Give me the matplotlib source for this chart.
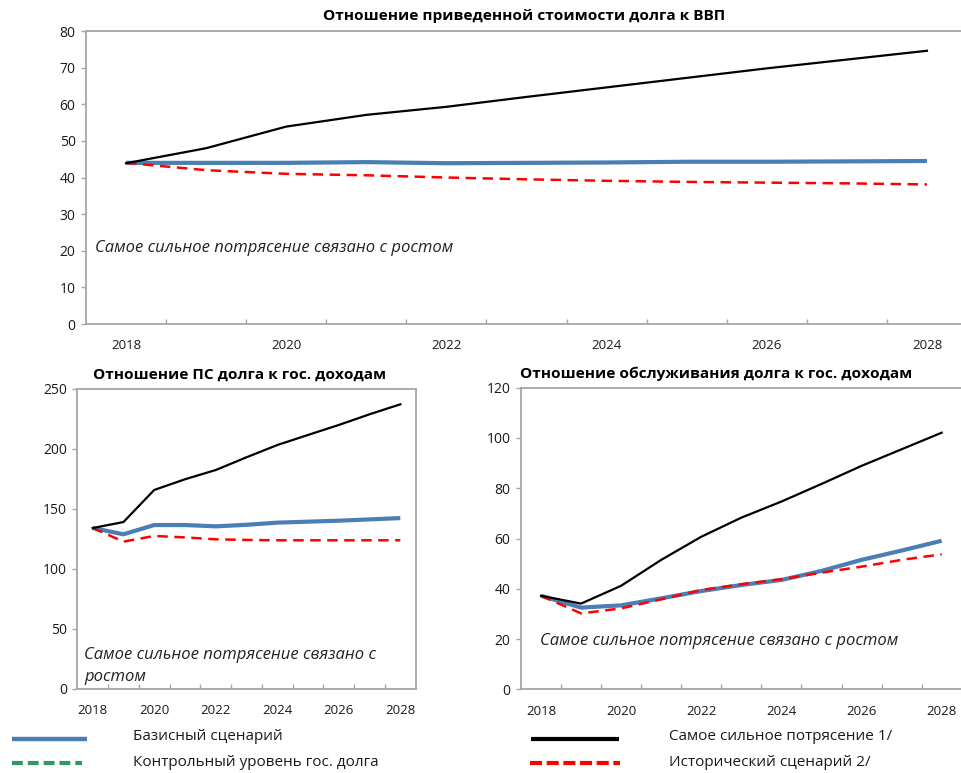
import matplotlib
matplotlib.use("Agg")
import matplotlib.pyplot as plt
from matplotlib.lines import Line2D
from matplotlib.ticker import FixedLocator

plt.rcParams['font.family'] = ['Open Sans', 'DejaVu Sans']

years = list(range(2018, 2029))

# PV of debt to GDP
pv_gdp_base = [44.0, 44.0, 44.0, 44.2, 43.9, 44.0, 44.1, 44.3, 44.3, 44.4, 44.5]
pv_gdp_shock = [43.9, 48.0, 53.9, 57.1, 59.3, 62.0, 64.6, 67.2, 69.8, 72.2, 74.6]
pv_gdp_hist = [44.0, 42.0, 41.0, 40.6, 40.0, 39.5, 39.1, 38.8, 38.6, 38.4, 38.1]

# PV of debt to revenue
pv_rev_base = [134.0, 128.8, 136.5, 136.5, 135.4, 136.7, 138.5, 139.3, 140.1, 141.2, 142.3]
pv_rev_shock = [134.0, 139.0, 165.7, 174.6, 182.3, 192.9, 203.1, 211.5, 219.8, 228.7, 237.0]
pv_rev_hist = [134.0, 122.7, 127.4, 126.2, 124.6, 124.1, 123.8, 123.8, 123.8, 123.8, 123.8]

# Debt service to revenue
ds_rev_base = [37.2, 32.5, 33.4, 36.2, 39.1, 41.5, 43.5, 47.1, 51.5, 55.2, 59.1]
ds_rev_shock = [37.2, 34.1, 41.2, 51.5, 60.7, 68.3, 74.7, 81.7, 88.9, 95.5, 102.1]
ds_rev_hist = [37.2, 30.2, 32.2, 35.8, 39.5, 41.8, 43.8, 46.4, 48.8, 51.5, 53.7]

x_labels = [2018, 2020, 2022, 2024, 2026, 2028]

titles = ["Отношение приведенной стоимости долга к ВВП",
          "Отношение ПС долга к гос. доходам",
          "Отношение обслуживания долга к гос. доходам"]
note = "Самое сильное потрясение связано с ростом"
legend_labels = ["Базисный сценарий", "Контрольный уровень гос. долга",
                 "Самое сильное потрясение 1/", "Исторический сценарий 2/"]

BLUE = "#4a7fb5"
RED = "#ff0000"
BLACK = "#000000"
GREEN = "#2e9a62"
SPINE = "#a6a6a6"
TXT = "#1a1a1a"

W, H = 961, 773
fig = plt.figure(figsize=(W / 100, H / 100), dpi=100)


def px_axes(left, top, right, bottom):
    return fig.add_axes([left / W, 1 - bottom / H, (right - left) / W, (bottom - top) / H])


def style(ax, ymax, ystep):
    ax.set_xlim(2017.5, 2028.5)
    ax.set_ylim(0, ymax)
    ax.set_yticks(range(0, ymax + 1, ystep))
    ax.xaxis.set_major_locator(FixedLocator(x_labels))
    ax.xaxis.set_minor_locator(FixedLocator([y + 0.5 for y in years[:-1]]))
    ax.tick_params(axis='x', which='major', length=0, pad=11, labelsize=9.5, labelcolor=TXT)
    ax.tick_params(axis='x', which='minor', direction='in', length=3.5, width=1, color=SPINE)
    ax.tick_params(axis='y', direction='out', length=3.5, width=1, color=SPINE, pad=4,
                   labelsize=10, labelcolor=TXT)
    for s in ax.spines.values():
        s.set_color(SPINE)
        s.set_linewidth(1.3)


def draw(ax, base, shock, hist):
    ax.plot(years, base, color=BLUE, lw=3.0, solid_capstyle='butt', zorder=3)
    ax.plot(years, hist, color=RED, lw=1.8, dashes=(4.2, 2.6), zorder=4)
    ax.plot(years, shock, color=BLACK, lw=1.6, zorder=5)


def note_text(x, y, s):
    fig.text(x / W, 1 - y / H, s, ha='left', va='center', fontsize=12,
             style='italic', color="#222222")


# top panel
ax1 = px_axes(86, 31, 967, 324)
style(ax1, 80, 10)
draw(ax1, pv_gdp_base, pv_gdp_shock, pv_gdp_hist)
fig.text(524 / W, 1 - 16 / H, titles[0], ha='center', va='center', fontsize=11.1, fontweight='bold')
note_text(95, 248, note)

# bottom-left panel
ax2 = px_axes(77.3, 388.7, 415.7, 689)
style(ax2, 250, 50)
draw(ax2, pv_rev_base, pv_rev_shock, pv_rev_hist)
fig.text(240 / W, 1 - 375 / H, titles[1], ha='center', va='center', fontsize=11.1, fontweight='bold')
note_text(84, 655, "Самое сильное потрясение связано с")
note_text(84, 677, "ростом")

# bottom-right panel
ax3 = px_axes(521, 387.7, 961.7, 689.3)
style(ax3, 120, 20)
draw(ax3, ds_rev_base, ds_rev_shock, ds_rev_hist)
fig.text(520 / W, 1 - 374 / H, titles[2], ha='left', va='center', fontsize=11.1, fontweight='bold')
note_text(540, 641, note)


# legend keys and labels
def key(x0, x1, y, **kw):
    fig.add_artist(Line2D([x0 / W, x1 / W], [1 - y / H, 1 - y / H], transform=fig.transFigure, **kw))


key(12, 87, 739, color=BLUE, lw=3.2, solid_capstyle='butt')
key(12, 82, 763, color=GREEN, lw=3.0, dashes=(2.6, 1.2))
key(531, 619, 739, color=BLACK, lw=3.0, solid_capstyle='butt')
key(530, 620, 763, color=RED, lw=3.0, dashes=(2.9, 1.1))

for (x, y), lab in zip([(133, 737), (133, 762), (669, 737), (669, 762)], legend_labels):
    fig.text(x / W, 1 - y / H, lab, ha='left', va='center', fontsize=11, color=TXT)

fig.savefig("out.png", dpi=100)
